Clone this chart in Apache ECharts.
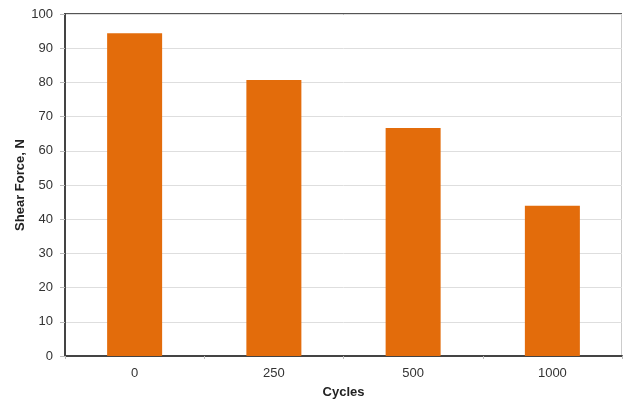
<!DOCTYPE html>
<html>
<head>
<meta charset="utf-8">
<script src="https://cdn.jsdelivr.net/npm/echarts@6/dist/echarts.min.js"></script>
<style>
  html, body { margin: 0; padding: 0; background: #fff; }
  #chart { width: 623px; height: 401px; }
</style>
</head>
<body>
<div id="chart"></div>
<script>
// Shear force measured after each number of cycles
const cycles = ['0', '250', '500', '1000'];
const shearForce = [94.4, 80.7, 66.7, 43.9];
const yTicks = { min: 0, max: 100, interval: 10 };

const chart = echarts.init(document.getElementById('chart'));
const font = 'Liberation Sans, Arial, sans-serif';

chart.setOption({
  animation: false,
  grid: { left: 65, right: 1, top: 14, bottom: 45, containLabel: false, outerBoundsMode: 'none' },
  xAxis: {
    type: 'category',
    data: cycles,
    name: 'Cycles',
    nameLocation: 'middle',
    nameGap: 30,
    nameMoveOverlap: false,
    nameTextStyle: { fontFamily: font, fontSize: 13, fontWeight: 'bold', color: '#222' },
    axisLine: { lineStyle: { color: '#444', width: 2 } },
    axisTick: { show: true, alignWithLabel: false, length: 3, lineStyle: { color: '#bbb' } },
    axisLabel: { fontFamily: font, fontSize: 13, color: '#333', margin: 11 }
  },
  yAxis: {
    type: 'value',
    min: yTicks.min,
    max: yTicks.max,
    interval: yTicks.interval,
    name: 'Shear Force, N',
    nameLocation: 'middle',
    nameGap: 38,
    nameMoveOverlap: false,
    nameTextStyle: { fontFamily: font, fontSize: 13, fontWeight: 'bold', color: '#222' },
    axisLine: { show: true, lineStyle: { color: '#444', width: 2 } },
    axisTick: { show: true, length: 5, lineStyle: { color: '#bbb' } },
    axisLabel: { fontFamily: font, fontSize: 13, color: '#333', margin: 12 },
    splitLine: { show: true, lineStyle: { color: '#dedede', width: 1 } }
  },
  series: [{
    type: 'bar',
    data: shearForce,
    barWidth: 55,
    itemStyle: { color: '#E36C0B' }
  }],
  graphic: [
    // top and right frame of the plot area
    { type: 'line', shape: { x1: 64, y1: 14, x2: 622, y2: 14 }, style: { stroke: '#555', lineWidth: 2 } },
    { type: 'line', shape: { x1: 621.5, y1: 14, x2: 621.5, y2: 356 }, style: { stroke: '#ccc', lineWidth: 1 } }
  ]
});
</script>
</body>
</html>
